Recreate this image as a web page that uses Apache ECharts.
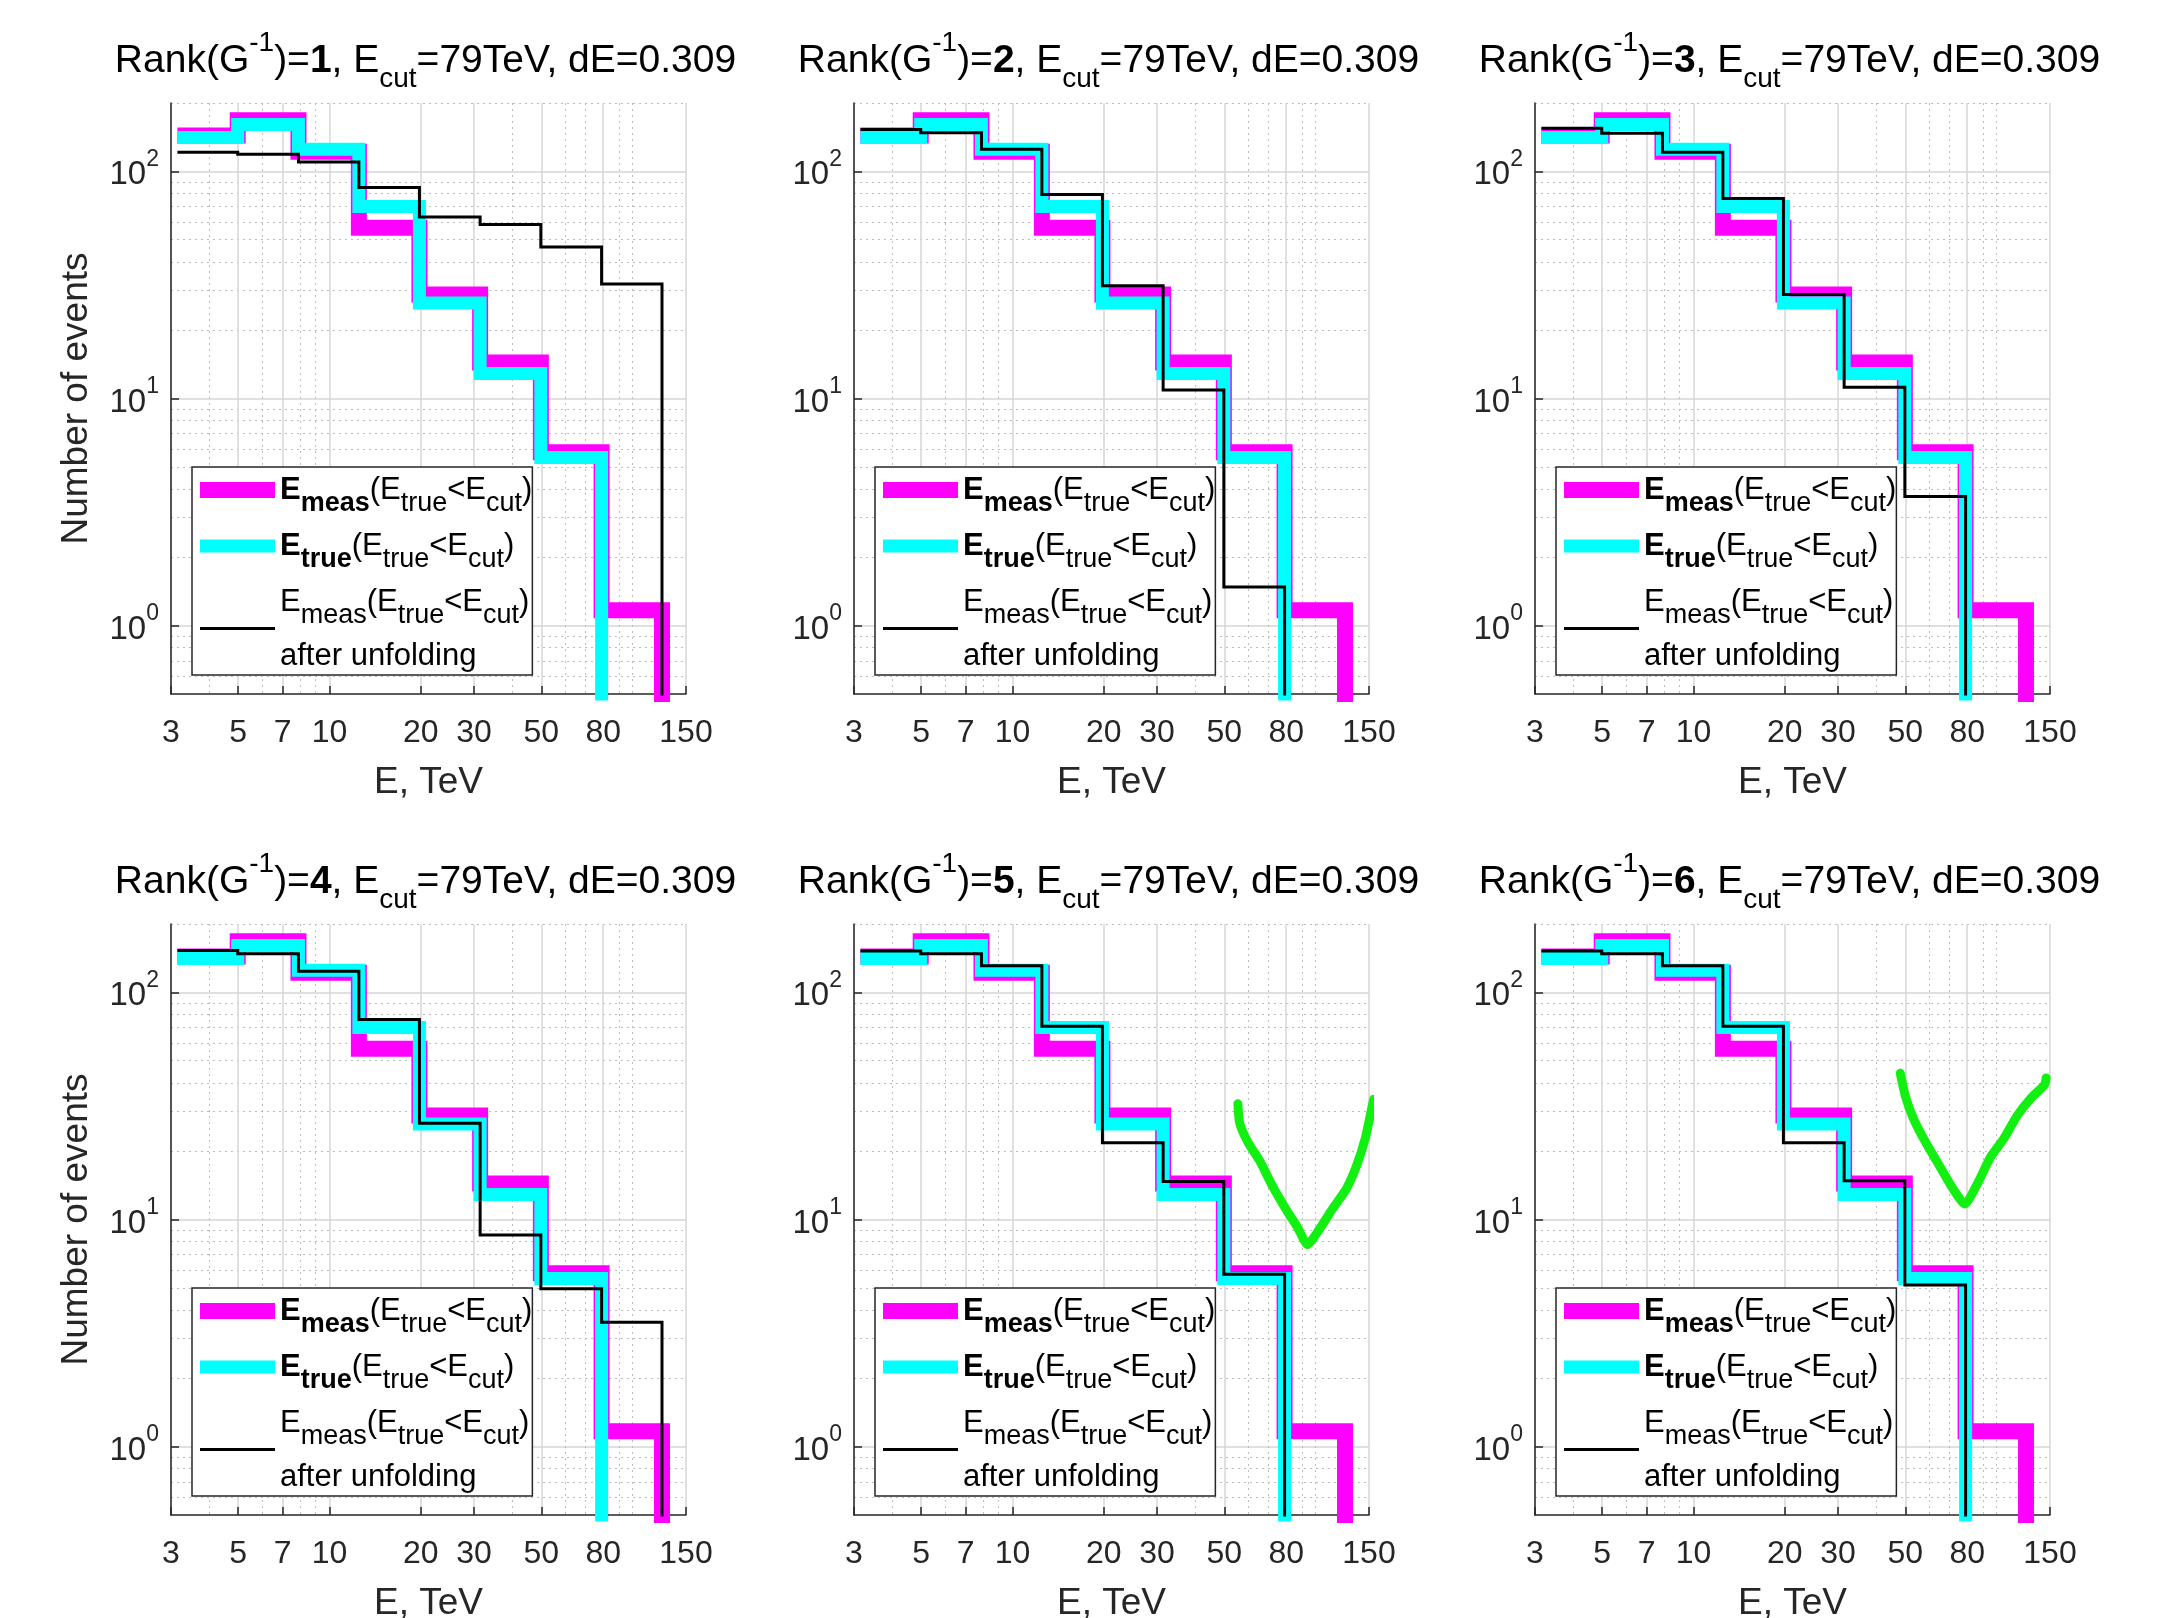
<!DOCTYPE html>
<html><head><meta charset="utf-8">
<script src="https://cdn.jsdelivr.net/npm/echarts@6/dist/echarts.min.js"></script>
<style>html,body{margin:0;padding:0;background:#fff}#c{width:2163px;height:1618px}</style>
</head><body><div id="c"></div>
<script>
// ---- data ----
const binEdges = [3.15, 4.98, 7.9, 12.5, 19.8, 31.4, 49.8, 79, 125];
const measCounts = [144, 168, 122, 56.5, 28.7, 14.4, 5.8, 1.17];
const trueCounts = [141, 161, 125, 70, 26.3, 12.9, 5.5, 0];
const unfoldRank1 = [121.5, 119, 110, 85, 63, 58.4, 46.4, 31.9];
const unfoldRank2 = [153, 148, 125, 79, 31.4, 10.9, 1.48, 0];
const unfoldRank3 = [155, 147, 121.5, 76, 28.7, 11.2, 3.7, 0];
const unfoldRank4 = [153, 148, 124, 76, 26.5, 8.55, 4.95, 3.53];
const unfoldRank5 = [152, 148, 131, 71, 21.8, 14.7, 5.74, 0];
const unfoldRank6 = [152, 148, 131, 71, 21.8, 14.8, 5.15, 0];
const rankLabels = ['1', '2', '3', '4', '5', '6'];
const xTickValues = [3, 5, 7, 10, 20, 30, 50, 80, 150];
const xTickLabels = ['3', '5', '7', '10', '20', '30', '50', '80', '150'];
const xMinorGrid = [4, 6, 8, 9, 40, 60, 70, 90, 100];
const yTickValues = [1, 10, 100];
const yTickExponents = ['0', '1', '2'];
const yMinorGrid = [0.6, 0.7, 0.8, 0.9, 2, 3, 4, 5, 6, 7, 8, 9, 20, 30, 40, 50, 60, 70, 80, 90, 200];
// hand-drawn green marks (panels 5 and 6)
const greenMarkE5 = [55.4, 56.2, 59.9, 65.6, 71.7, 79.5, 87.1, 94.0, 102.9, 114.0, 126.5, 136.6, 145.7, 151.4, 155.4];
const greenMarkN5 = [32.3, 26.5, 21.8, 18.0, 14.2, 11.2, 9.25, 7.76, 9.07, 11.2, 13.7, 17.3, 22.7, 28.7, 33.8];
const greenMarkE6 = [48.1, 50.0, 53.3, 58.4, 64.7, 71.7, 78.5, 86.0, 95.2, 105.6, 117.0, 129.7, 143.9, 145.7];
const greenMarkN6 = [44.1, 34.9, 27.6, 21.8, 17.3, 13.7, 11.7, 14.2, 18.7, 22.7, 28.7, 34.2, 39.2, 42.0];

const unfoldByPanel = [unfoldRank1, unfoldRank2, unfoldRank3, unfoldRank4, unfoldRank5, unfoldRank6];
const greenByPanel = {4: [greenMarkE5, greenMarkN5], 5: [greenMarkE6, greenMarkN6]};

// ---- layout ----
const colLeft = [171, 854, 1535];
const rowTop = [103, 924];
const plotW = 515, plotH = 591;
const FLOOR = 0.05; // below the axis minimum: draws the drop of an empty bin
const FONT = 'Liberation Sans, Arial, sans-serif';
const AX = '#262626';

function stepData(counts) {
  const pts = [];
  for (let i = 0; i < counts.length; i++) {
    if (counts[i] > 0) pts.push([binEdges[i], counts[i]]);
    else { pts.push([binEdges[i], FLOOR]); return pts; }
  }
  pts.push([binEdges[counts.length], FLOOR]);
  return pts;
}
function xFmt(v) {
  for (let i = 0; i < xTickValues.length; i++) if (Math.abs(v / xTickValues[i] - 1) < 1e-6) return xTickLabels[i];
  return '';
}
function yFmt(v) {
  for (let i = 0; i < yTickValues.length; i++) if (Math.abs(v / yTickValues[i] - 1) < 1e-6) return '{b|10}{sup|' + yTickExponents[i] + '}';
  return '';
}
const legendText = {
  meas: '{bE|E}{bsub|meas}{n|(E}{sub|true}{n|<E}{sub|cut}{n|)}',
  true: '{bE|E}{bsub|true}{n|(E}{sub|true}{n|<E}{sub|cut}{n|)}',
  unf: '{n|E}{sub|meas}{n|(E}{sub|true}{n|<E}{sub|cut}{n|)}\n{l2|after unfolding}'
};

const grid = [], xAxis = [], yAxis = [], series = [], title = [], legend = [];
for (let p = 0; p < 6; p++) {
  const c = p % 3, r = Math.floor(p / 3);
  const L = colLeft[c], T = rowTop[r];
  grid.push({left: L, top: T, width: plotW, height: plotH, containLabel: false, outerBoundsMode: 'none'});
  xAxis.push({
    type: 'log', logBase: 10, gridIndex: p, min: 3, max: 150, position: 'bottom',
    name: 'E, TeV', nameLocation: 'middle', nameGap: 70,
    nameTextStyle: {fontSize: 37, color: AX, fontFamily: FONT},
    axisLine: {show: true, onZero: false, lineStyle: {color: AX, width: 1.5}},
    axisTick: {show: true, inside: true, length: 8, customValues: xTickValues, lineStyle: {color: AX, width: 1.5}},
    axisLabel: {show: true, customValues: xTickValues, formatter: xFmt, fontSize: 32, color: AX, margin: 23, fontFamily: FONT, hideOverlap: false},
    splitLine: {show: true, lineStyle: {color: '#d6d6d6', width: 1.5}},
    minorTick: {show: false}, minorSplitLine: {show: false}
  });
  xAxis.push({
    type: 'log', logBase: 10, gridIndex: p, min: 3, max: 150, position: 'top',
    axisLine: {show: false}, axisLabel: {show: false},
    axisTick: {show: false, customValues: xMinorGrid},
    splitLine: {show: true, lineStyle: {color: '#bdbdbd', width: 1, type: [2, 4]}}
  });
  yAxis.push({
    type: 'log', logBase: 10, gridIndex: p, min: 0.5, max: 200, position: 'left',
    name: c === 0 ? 'Number of events' : '', nameLocation: 'middle', nameGap: 76,
    nameTextStyle: {fontSize: 37, color: AX, fontFamily: FONT},
    axisLine: {show: true, onZero: false, lineStyle: {color: AX, width: 1.5}},
    axisTick: {show: true, inside: true, length: 8, customValues: yTickValues, lineStyle: {color: AX, width: 1.5}},
    axisLabel: {show: true, customValues: yTickValues, formatter: yFmt, margin: 12, color: AX, fontFamily: FONT,
      padding: [8, 0, 0, 0],
      rich: {b: {fontSize: 33, lineHeight: 54, color: AX, fontFamily: FONT},
             sup: {fontSize: 23, lineHeight: 20, verticalAlign: 'top', color: AX, fontFamily: FONT}}},
    splitLine: {show: true, lineStyle: {color: '#d6d6d6', width: 1.5}},
    minorTick: {show: false}
  });
  yAxis.push({
    type: 'log', logBase: 10, gridIndex: p, min: 0.5, max: 200, position: 'right',
    axisLine: {show: false}, axisLabel: {show: false},
    axisTick: {show: false, customValues: yMinorGrid},
    splitLine: {show: true, lineStyle: {color: '#bdbdbd', width: 1, type: [2, 4]}}
  });
  const xi = 2 * p, yi = 2 * p;
  const common = {type: 'line', xAxisIndex: xi, yAxisIndex: yi, step: 'end', symbol: 'none', clip: true, silent: true, animation: false};
  series.push(Object.assign({}, common, {name: 'meas', data: stepData(measCounts), color: '#ff00ff',
    itemStyle: {color: '#ff00ff'}, lineStyle: {color: '#ff00ff', width: 16, cap: 'butt', join: 'miter'}}));
  series.push(Object.assign({}, common, {name: 'true', data: stepData(trueCounts), color: '#00ffff',
    itemStyle: {color: '#00ffff'}, lineStyle: {color: '#00ffff', width: 13, cap: 'butt', join: 'miter'}}));
  series.push(Object.assign({}, common, {name: 'unf', data: stepData(unfoldByPanel[p]), color: '#000000',
    itemStyle: {color: '#000000'}, lineStyle: {color: '#000000', width: 3, cap: 'butt', join: 'miter'}}));
  if (greenByPanel[p]) {
    const [gE, gN] = greenByPanel[p];
    series.push({type: 'line', name: 'mark', xAxisIndex: xi, yAxisIndex: yi, symbol: 'none', smooth: 0.2, clip: false,
      silent: true, animation: false, data: gE.map((e, i) => [e, gN[i]]), color: '#12f012',
      lineStyle: {color: '#12f012', width: 9, cap: 'round', join: 'round'}, z: 5});
  }
  title.push({
    text: '{n|Rank(G}{sup|-1}{n|)=}{b|' + rankLabels[p] + '}{n|, E}{sub|cut}{n|=79TeV, dE=0.309}',
    left: L + plotW / 2 - 3, top: T - 74, textAlign: 'center', padding: 0,
    textStyle: {fontSize: 39, fontWeight: 'normal', color: '#000', fontFamily: FONT,
      rich: {n: {fontSize: 39, lineHeight: 64, color: '#000', fontFamily: FONT},
             b: {fontSize: 39, lineHeight: 64, fontWeight: 'bold', color: '#000', fontFamily: FONT},
             sup: {fontSize: 28, lineHeight: 26, verticalAlign: 'top', color: '#000', fontFamily: FONT},
             sub: {fontSize: 28, lineHeight: 26, verticalAlign: 'bottom', color: '#000', fontFamily: FONT}}}
  });
  legend.push({
    orient: 'vertical', left: L + 21, top: T + 364, padding: [1, 0, 3, 0], itemGap: 7,
    itemWidth: 75, itemHeight: 16, borderColor: AX, borderWidth: 1.5, backgroundColor: '#fff',
    selectedMode: false,
    itemStyle: {opacity: 0, color: 'rgba(0,0,0,0)', borderWidth: 0},
    data: [{name: 'meas', lineStyle: {width: 16}}, {name: 'true', lineStyle: {width: 13}}, {name: 'unf', lineStyle: {width: 3}}],
    formatter: (name) => legendText[name],
    textStyle: {fontSize: 31, color: '#000', fontFamily: FONT,
      rich: {n: {fontSize: 31, lineHeight: 44, color: '#000', fontFamily: FONT},
             bE: {fontSize: 31, lineHeight: 44, fontWeight: 'bold', color: '#000', fontFamily: FONT},
             sub: {fontSize: 27, lineHeight: 14, verticalAlign: 'top', padding: [22, 0, 0, 0], color: '#000', fontFamily: FONT},
             bsub: {fontSize: 27, lineHeight: 14, verticalAlign: 'top', padding: [22, 0, 0, 0], fontWeight: 'bold', color: '#000', fontFamily: FONT},
             l2: {fontSize: 31, lineHeight: 53, verticalAlign: 'top', padding: [17, 0, 0, 0], color: '#000', fontFamily: FONT}}}
  });
}

const chart = echarts.init(document.getElementById('c'), null, {renderer: 'canvas'});
chart.setOption({
  animation: false,
  backgroundColor: '#ffffff',
  textStyle: {fontFamily: FONT},
  title, legend, grid, xAxis, yAxis, series
});
</script></body></html>
